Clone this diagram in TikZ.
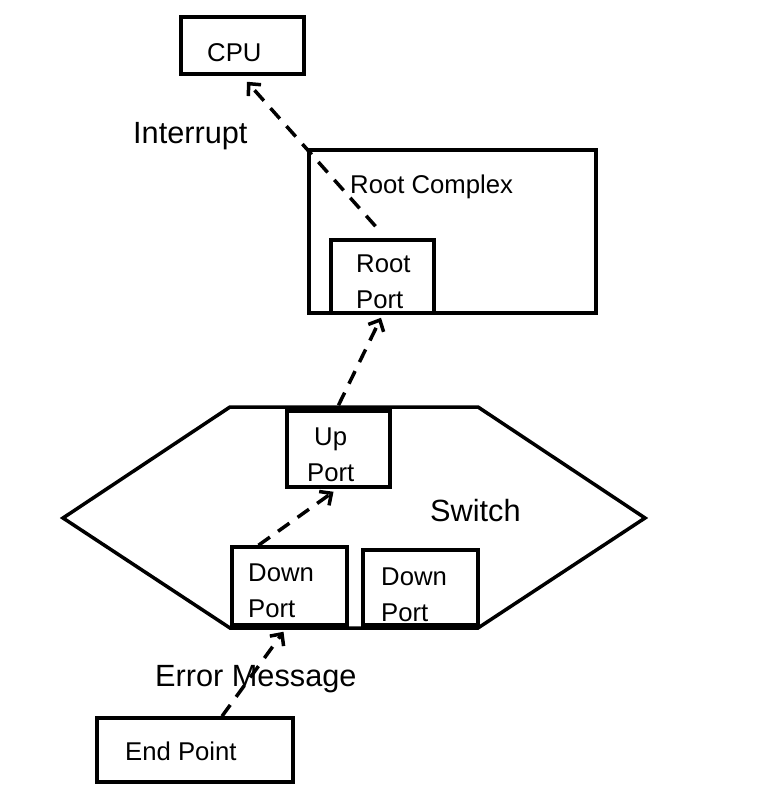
\documentclass[tikz,border=0pt]{standalone}
\usepackage{fontspec}
\setmainfont{Liberation Sans}
\usetikzlibrary{arrows.meta}
\tikzset{
  box/.style={draw, line width=3.5pt, rectangle, inner sep=0pt},
  bigtext/.style={font=\fontsize{30.7}{36}\selectfont, inner sep=0pt, anchor=base west},
  boxtext/.style={font=\fontsize{25.7}{30}\selectfont, inner sep=0pt, anchor=base west},
  flow/.style={line width=3.5pt, dash pattern=on 14pt off 10pt,
    -{Straight Barb[length=9pt,width=17pt]}}
}
\begin{document}
\begin{tikzpicture}[x=1pt,y=-1pt]
\useasboundingbox (0,0) rectangle (761,806);
% boxes
\node[box, minimum width=123pt, minimum height=57pt] (cpu) at (242.5,45.5) {};
\node[box, minimum width=287pt, minimum height=163pt] (rc) at (452.5,231.5) {};
\node[box, minimum width=103pt, minimum height=73pt] (rp) at (382.5,276.5) {};
\draw[line width=3.5pt, line join=miter] (230,407) coordinate (h1) -- (478,407) coordinate (h2)
  -- (645,518) coordinate (h3) -- (478,628) coordinate (h4) -- (230,628) coordinate (h5)
  -- (63,518) coordinate (h6) -- cycle;
\node[box, fill=white, minimum width=103pt, minimum height=76pt] (up) at (338.5,449) {};
\node[box, fill=white, minimum width=115pt, minimum height=78pt] (dp1) at (289.5,586) {};
\node[box, fill=white, minimum width=115pt, minimum height=75pt] (dp2) at (420.5,587.5) {};
\node[box, minimum width=196pt, minimum height=64pt] (ep) at (195,750) {};
% texts
\node[boxtext] (tcpu) at (207,61) {CPU};
\node[boxtext] (trc) at (350,193) {Root Complex};
\node[boxtext] (trp1) at (356,272) {Root};
\node[boxtext] (trp2) at (356,308) {Port};
\node[boxtext] (tup1) at (314,445) {Up};
\node[boxtext] (tup2) at (307,481) {Port};
\node[boxtext] (td11) at (248,581) {Down};
\node[boxtext] (td12) at (248,617) {Port};
\node[boxtext] (td21) at (381,585) {Down};
\node[boxtext] (td22) at (381,621) {Port};
\node[boxtext] (tep) at (125,760) {End Point};
\node[bigtext] (tint) at (133,143) {Interrupt};
\node[bigtext] (tsw) at (430,521) {Switch};
\node[bigtext] (terr) at (155,686) {Error Message};
% connectors
\draw[flow] ([xshift=27pt]ep.north) -- ([xshift=-6pt,yshift=-5pt]dp1.south);
\draw[flow] ([xshift=-31pt]dp1.north) -- ([xshift=-5pt,yshift=-3pt]up.south);
\draw[flow] ([yshift=4pt]up.north) -- ([xshift=-1.5pt,yshift=-3pt]rp.south);
\draw[flow] ([xshift=-7pt,yshift=12pt]rp.north) -- ([xshift=4.5pt,yshift=-6pt]cpu.south);
\end{tikzpicture}
\end{document}
